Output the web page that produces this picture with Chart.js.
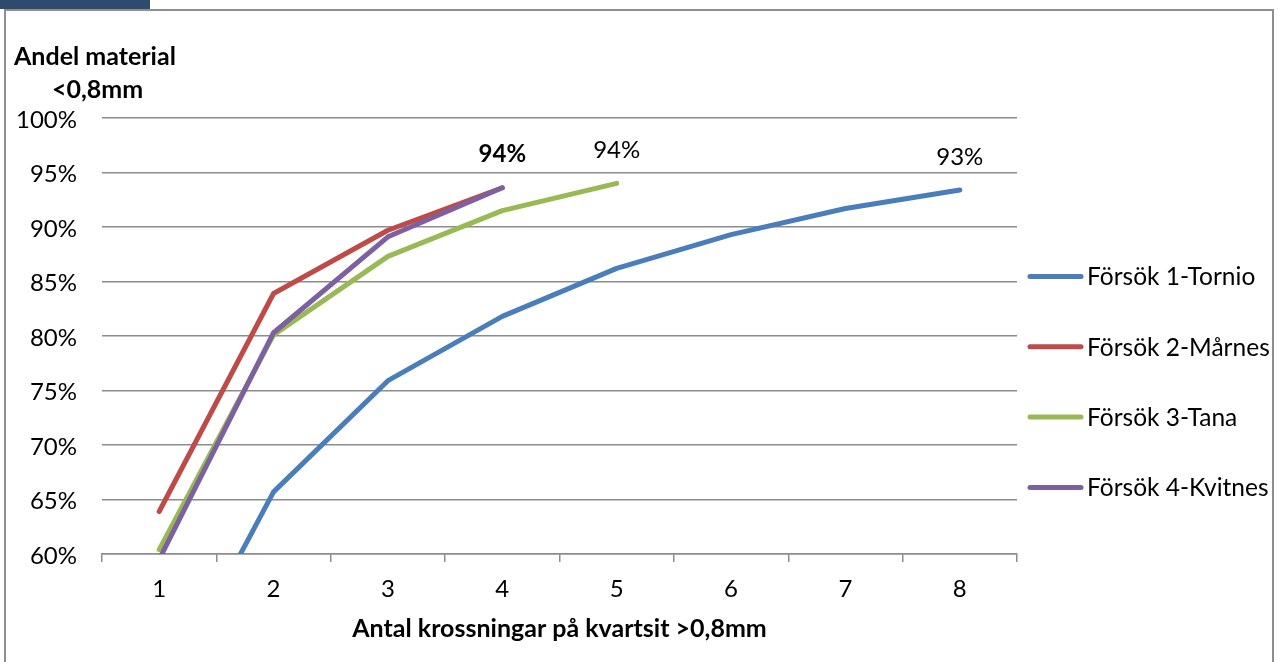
<!DOCTYPE html>
<html>
<head>
<meta charset="utf-8">
<script src="https://cdn.jsdelivr.net/npm/chart.js@4.4.1/dist/chart.umd.min.js"></script>
<style>
  html, body { margin: 0; padding: 0; background: #ffffff; }
  #wrap { position: relative; width: 1278px; height: 662px; }
  canvas { display: block; }
</style>
</head>
<body>
<div id="wrap"><canvas id="chart" width="1278" height="662"></canvas></div>
<script>
// Number of crushing passes (x axis)
const categories = ['1', '2', '3', '4', '5', '6', '7', '8'];

// Share of material < 0,8 mm after each pass, in percent
const tornio  = [46.0, 65.7, 75.9, 81.8, 86.2, 89.3, 91.7, 93.4];
const marnes  = [63.9, 83.9, 89.7, 93.6, null, null, null, null];
const tana    = [60.4, 80.1, 87.3, 91.5, 94.0, null, null, null];
const kvitnes = [59.5, 80.3, 89.1, 93.6, null, null, null, null];

const seriesNames  = ['Försök 1-Tornio', 'Försök 2-Mårnes', 'Försök 3-Tana', 'Försök 4-Kvitnes'];
const seriesColors = ['#4A7EBB', '#BE4B48', '#98B954', '#7D60A0'];

// Y axis range and step (percent)
const yMin = 60, yMax = 100, yStep = 5;

// Which end points carry a value label: [series index, category index, bold]
const valueLabels = [
  [0, 7, false],
  [2, 4, false],
  [3, 3, true]
];

const yTitleLines = ['Andel material', '<0,8mm'];
const xTitle = 'Antal krossningar på kvartsit >0,8mm';

const FONT = 'Lato, "Open Sans", sans-serif';
const GRID = '#8C8C8C';

const seriesData = [tornio, marnes, tana, kvitnes];

// Frame around the chart and the dark tab in the top-left corner
const framePlugin = {
  id: 'frame',
  beforeDraw(chart) {
    const ctx = chart.ctx;
    ctx.save();
    ctx.fillStyle = '#ffffff';
    ctx.fillRect(0, 0, chart.width, chart.height);
    ctx.fillStyle = '#2E4A6D';
    ctx.fillRect(0, 0, 150, 9);
    ctx.strokeStyle = '#8E8E8E';
    ctx.lineWidth = 2;
    ctx.beginPath();
    ctx.moveTo(5, chart.height + 2);
    ctx.lineTo(5, 10);
    ctx.lineTo(1273, 10);
    ctx.lineTo(1273, chart.height + 2);
    ctx.stroke();
    ctx.restore();
  }
};

// Horizontal two-line title above the value axis
const yTitlePlugin = {
  id: 'yTitle',
  afterDraw(chart) {
    const ctx = chart.ctx;
    ctx.save();
    ctx.fillStyle = '#000000';
    ctx.font = 'bold 25px ' + FONT;
    ctx.textAlign = 'left';
    ctx.textBaseline = 'alphabetic';
    ctx.fillText(yTitleLines[0], 14, 65);
    ctx.fillText(yTitleLines[1], 52, 98);
    ctx.restore();
  }
};

// Value labels above selected points
const valueLabelPlugin = {
  id: 'valueLabels',
  afterDatasetsDraw(chart) {
    const ctx = chart.ctx;
    ctx.save();
    ctx.fillStyle = '#000000';
    ctx.textAlign = 'center';
    ctx.textBaseline = 'middle';
    valueLabels.forEach(([s, i, bold]) => {
      const meta = chart.getDatasetMeta(s);
      const pt = meta.data[i];
      const v = seriesData[s][i];
      ctx.font = (bold ? 'bold ' : '') + '24px ' + FONT;
      ctx.fillText(Math.round(v) + '%', pt.x, pt.y - 33);
    });
    ctx.restore();
  }
};

// Legend on the right, one line sample per series
const legendPlugin = {
  id: 'sideLegend',
  afterDraw(chart) {
    const ctx = chart.ctx;
    const x0 = 1030, x1 = 1081, tx = 1087;
    const firstY = 276.5, gap = 70.3;
    ctx.save();
    ctx.textAlign = 'left';
    ctx.textBaseline = 'middle';
    ctx.font = '24.5px ' + FONT;
    chart.data.datasets.forEach((ds, k) => {
      const y = firstY + k * gap;
      ctx.strokeStyle = ds.borderColor;
      ctx.lineWidth = 5;
      ctx.lineCap = 'round';
      ctx.beginPath();
      ctx.moveTo(x0, y);
      ctx.lineTo(x1, y);
      ctx.stroke();
      ctx.fillStyle = '#000000';
      ctx.fillText(ds.label, tx, y + 1);
    });
    ctx.restore();
  }
};

const datasets = seriesData.map((values, k) => ({
  label: seriesNames[k],
  data: values,
  borderColor: seriesColors[k],
  backgroundColor: seriesColors[k],
  borderWidth: 5,
  borderCapStyle: 'round',
  borderJoinStyle: 'round',
  pointRadius: 0,
  pointHoverRadius: 0,
  tension: 0,
  fill: false,
  order: seriesData.length - k
}));

new Chart(document.getElementById('chart'), {
  type: 'line',
  data: { labels: categories, datasets },
  options: {
    responsive: false,
    animation: false,
    events: [],
    layout: { padding: { top: 118, right: 261, left: 0, bottom: 0 } },
    plugins: {
      legend: { display: false },
      tooltip: { enabled: false },
      title: { display: false }
    },
    scales: {
      x: {
        type: 'category',
        offset: true,
        grid: {
          offset: true,
          drawOnChartArea: false,
          drawTicks: true,
          tickLength: 8,
          color: GRID,
          lineWidth: 1.5
        },
        border: { display: true, color: GRID, width: 1.5 },
        ticks: {
          color: '#000000',
          font: { family: FONT, size: 24 },
          padding: 13,
          maxRotation: 0
        },
        title: {
          display: true,
          text: xTitle,
          color: '#000000',
          font: { family: FONT, size: 25, weight: 'bold' },
          padding: { top: 0, bottom: 18 }
        },
        afterFit(scale) { scale.height = 108; }
      },
      y: {
        min: yMin,
        max: yMax,
        grid: {
          color: GRID,
          lineWidth: 1.5,
          drawTicks: false
        },
        border: { display: false },
        ticks: {
          stepSize: yStep,
          color: '#000000',
          font: { family: FONT, size: 24 },
          padding: 25,
          labelOffset: 2,
          callback: (v) => v + '%'
        },
        afterFit(scale) { scale.width = 102; }
      }
    }
  },
  plugins: [framePlugin, yTitlePlugin, valueLabelPlugin, legendPlugin]
});
</script>
</body>
</html>
